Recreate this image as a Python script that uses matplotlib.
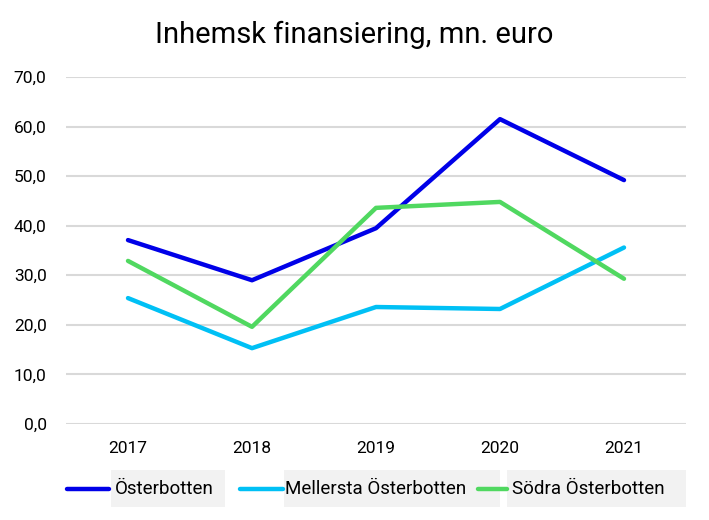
import matplotlib.pyplot as plt
from matplotlib.lines import Line2D
from matplotlib.patches import Rectangle
from matplotlib.ticker import FuncFormatter

plt.rcParams['font.family'] = ['Roboto', 'DejaVu Sans']

years = ['2017', '2018', '2019', '2020', '2021']
osterbotten = [37.1, 29.0, 39.5, 61.5, 49.2]
mellersta = [25.4, 15.3, 23.6, 23.2, 35.6]
sodra = [32.9, 19.6, 43.6, 44.8, 29.3]

series = [
    ('Österbotten', osterbotten, '#0000e8'),
    ('Mellersta Österbotten', mellersta, '#00c0f5'),
    ('Södra Österbotten', sodra, '#50d860'),
]

W, H = 709, 520
fig = plt.figure(figsize=(W / 100, H / 100), dpi=100)
ax = fig.add_axes([66 / W, 1 - 424 / H, 620 / W, 347 / H])

x = range(len(years))
for name, vals, col in series:
    ax.plot(x, vals, color=col, lw=3.2, solid_capstyle='round', zorder=3)

ax.set_xlim(-0.5, len(years) - 0.5)
ax.set_ylim(0, 70)
ax.set_yticks(range(0, 71, 10))
ax.yaxis.set_major_formatter(FuncFormatter(lambda v, p: f'{v:.1f}'.replace('.', ',')))
ax.set_xticks(list(x))
ax.set_xticklabels(years)
ax.grid(axis='y', color='#d9d9d9', lw=1.5)
ax.set_axisbelow(True)
for s in ax.spines.values():
    s.set_visible(False)
ax.tick_params(length=0, labelsize=12.5, colors='#000000')
ax.tick_params(axis='y', pad=14)
ax.tick_params(axis='x', pad=12)

fig.text(354 / W, 1 - 35 / H, 'Inhemsk finansiering, mn. euro', ha='center', va='center', fontsize=21)

# legend drawn by hand: line, then grey box with the label
def px(xp, yp):
    return xp / W, 1 - yp / H

leg = [(67, 109, 111, 225, 115), (240, 283, 284, 500, 285), (478, 507, 507, 686, 512)]
for (name, vals, col), (l0, l1, b0, b1, t0) in zip(series, leg):
    fig.add_artist(Rectangle(px(b0, 507), (b1 - b0) / W, 37 / H, transform=fig.transFigure,
                             facecolor='#f2f2f2', edgecolor='none'))
    fig.add_artist(Line2D([l0 / W, l1 / W], [1 - 489 / H] * 2, transform=fig.transFigure,
                          color=col, lw=3.2, solid_capstyle='round'))
    fig.text(*px(t0, 489), name, ha='left', va='center', fontsize=13.5)

fig.savefig('out.png', dpi=100)
